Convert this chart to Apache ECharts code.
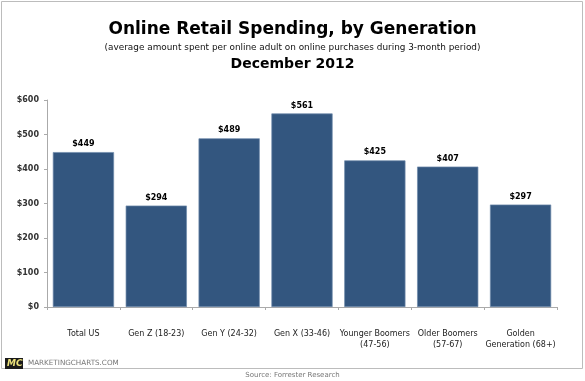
<!DOCTYPE html>
<html><head><meta charset="utf-8">
<script src="https://cdn.jsdelivr.net/npm/echarts@6/dist/echarts.min.js"></script>
<style>html,body{margin:0;padding:0;background:#fff}#c{width:585px;height:381px}</style>
</head><body><div id="c"></div>
<script>
const categories = ['Total US', 'Gen Z (18-23)', 'Gen Y (24-32)', 'Gen X (33-46)', 'Younger Boomers\n(47-56)', 'Older Boomers\n(57-67)', 'Golden\nGeneration (68+)'];
const spending = [449, 294, 489, 561, 425, 407, 297];
const yTicks = [0, 100, 200, 300, 400, 500, 600];

const chart = echarts.init(document.getElementById('c'), null, {renderer: 'canvas'});
const F = 'DejaVu Sans';
chart.setOption({
  animation: false,
  backgroundColor: '#fff',
  title: [
    {text: 'Online Retail Spending, by Generation', left: 'center', top: 21, padding: 0,
     textStyle: {fontFamily: F, fontWeight: 'bold', fontSize: 17, color: '#000'}},
    {text: '(average amount spent per online adult on online purchases during 3-month period)', left: 'center', top: 43, padding: 0,
     textStyle: {fontFamily: F, fontWeight: 'normal', fontSize: 8.9, color: '#111'}},
    {text: 'December 2012', left: 'center', top: 57, padding: 0,
     textStyle: {fontFamily: F, fontWeight: 'bold', fontSize: 14, color: '#000'}},
    {text: 'MARKETINGCHARTS.COM', left: 28, top: 360, padding: 0,
     textStyle: {fontFamily: F, fontWeight: 'normal', fontSize: 7.2, color: '#777'}},
    {text: 'Source: Forrester Research', left: 'center', top: 372, padding: 0,
     textStyle: {fontFamily: F, fontWeight: 'normal', fontSize: 7, color: '#777'}}
  ],
  graphic: [
    {type: 'rect', shape: {x: 1.5, y: 1.5, width: 581, height: 367}, style: {fill: 'none', stroke: '#bcbcbc', lineWidth: 1}, silent: true},
    {type: 'rect', shape: {x: 5, y: 358, width: 18, height: 11}, style: {fill: '#1a1a1a'}},
    {type: 'text', x: 7, y: 359, style: {text: 'MC', fill: '#ece27a', font: 'italic bold 9px "DejaVu Sans"'}}
  ],
  grid: {left: 47, right: 28, top: 100, bottom: 74, containLabel: false},
  xAxis: {
    type: 'category', data: categories,
    axisLine: {lineStyle: {color: '#aaa'}},
    axisTick: {show: true, alignWithLabel: false, length: 3, lineStyle: {color: '#aaa'}},
    axisLabel: {interval: 0, margin: 21, fontFamily: F, fontSize: 8, color: '#222', lineHeight: 11}
  },
  yAxis: {
    type: 'value', min: 0, max: 600, interval: 100,
    axisLine: {show: true, lineStyle: {color: '#aaa'}},
    axisTick: {show: true, length: 3, lineStyle: {color: '#aaa'}},
    splitLine: {show: false},
    axisLabel: {margin: 8, fontFamily: F, fontSize: 8, fontWeight: 'bold', color: '#333',
      formatter: v => yTicks.includes(v) ? '$' + v : ''}
  },
  series: [{
    type: 'bar', data: spending, barCategoryGap: '16%',
    itemStyle: {color: '#33567f', borderColor: '#6f89aa', borderWidth: 0.7},
    label: {show: true, position: 'top', distance: 4, formatter: p => '$' + p.value,
      fontFamily: F, fontSize: 8, fontWeight: 'bold', color: '#000'}
  }]
});
</script></body></html>
